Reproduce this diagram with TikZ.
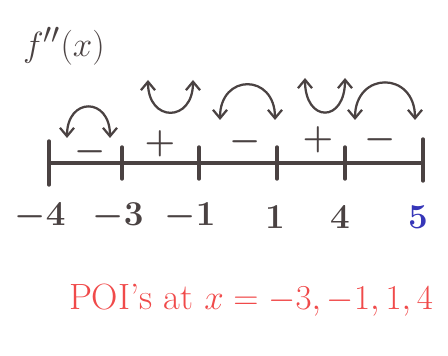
\documentclass[tikz,border=0pt]{standalone}
\usepackage{tikz}
\usetikzlibrary{arrows.meta,positioning}
\definecolor{pen}{HTML}{4A4242}
\definecolor{redpen}{HTML}{F04A4A}
\definecolor{bluepen}{HTML}{3636B8}

\begin{document}
\begin{tikzpicture}[>={Straight Barb[length=6pt,width=10pt]},
    axisline/.style={draw=pen,line width=2.4pt,line cap=round},
    bendarrow/.style={draw=pen,line width=1.6pt,line cap=round,<->},
    numlabel/.style={font=\fontsize{24}{28}\selectfont\boldmath,text=pen,inner sep=1pt},
    signlabel/.style={font=\fontsize{24}{28}\selectfont\boldmath,text=pen,inner sep=1pt}]
    \useasboundingbox (0,0) rectangle (11.2,-8.9);
    \node[font=\fontsize{30}{34}\selectfont,text=pen] (title) at (1.6,-1.15) {$f''(x)$};
    % number line with its ticks
    \foreach \n/\x in {1/1.225,2/3.05,3/4.975,4/6.925,5/8.625,6/10.575}
      \coordinate (t\n) at (\x,-4.075);
    \draw[axisline] (t1) -- (t6);
    \draw[axisline] (t1) ++(0,0.55) -- ++(0,-1.1);
    \draw[axisline] (t6) ++(0,0.6) -- ++(0,-1.05);
    \foreach \n in {2,3,4,5}
      \draw[axisline] (t\n) ++(0,0.4) -- ++(0,-0.8);
    \node[numlabel] (l1) at (1.0,-5.425) {$-4$};
    \node[numlabel] (l2) at (2.95,-5.425) {$-3$};
    \node[numlabel] (l3) at (4.75,-5.425) {$-1$};
    \node[numlabel] (l4) at (6.875,-5.425) {$1$};
    \node[numlabel] (l5) at (8.5,-5.425) {$4$};
    \node[numlabel,text=bluepen] (l6) at (10.45,-5.425) {$5$};
    % signs of f''
    \node[signlabel] (s1) at (2.25,-3.8) {$-$};
    \node[signlabel] (s2) at (4.0,-3.6) {$+$};
    \node[signlabel] (s3) at (6.125,-3.55) {$-$};
    \node[signlabel] (s4) at (7.95,-3.5) {$+$};
    \node[signlabel] (s5) at (9.5,-3.5) {$-$};
    % concave down
    \foreach \xa/\xb/\ya/\yc in {1.675/2.75/-3.45/-2.42,5.5/6.875/-3.0/-1.83,8.875/10.375/-3.0/-1.77}
      \draw[bendarrow] (\xa,\ya) .. controls (\xa,\yc) and (\xb,\yc) .. (\xb,\ya);
    % concave up
    \foreach \xa/\xb/\ya/\yc in {3.7/4.825/-2.0/-3.07,7.625/8.625/-1.95/-3.08}
      \draw[bendarrow] (\xa,\ya) .. controls (\xa,\yc) and (\xb,\yc) .. (\xb,\ya);
    \node[font=\fontsize{26}{30}\selectfont,text=redpen] (poi) at (6.275,-7.5) {POI's at $x=-3,-1,1,4$};
\end{tikzpicture}
\end{document}
